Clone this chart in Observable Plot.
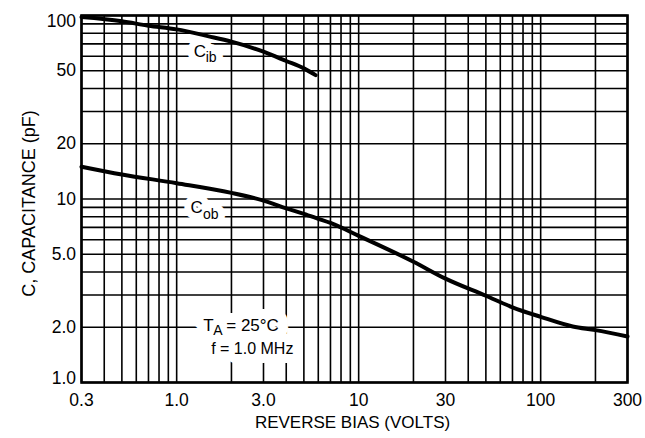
<!DOCTYPE html>
<html><head><meta charset="utf-8">
<script src="https://cdn.jsdelivr.net/npm/d3@7"></script>
<script src="https://cdn.jsdelivr.net/npm/@observablehq/plot@0.6"></script>
<style>body{margin:0;background:#fff}</style>
</head><body><div id="chart"></div>
<script>
// grid and tick values
const xGrid = [0.3,0.4,0.5,0.6,0.7,0.8,0.9,1,2,3,4,5,6,7,8,9,10,20,30,40,50,60,70,80,90,100,200,300];
const yGrid = [1,2,3,4,5,6,7,8,9,10,20,30,40,50,60,70,80,90,100];
const xTicks = [0.3,0.5,1,3,10,30,100,300];
const xTickLabels = ["0.3","0.5","1.0","3.0","10","30","100","300"];
const yTicks = [1,2,5,10,20,50,100];
const yTickLabels = ["1.0","2.0","5.0","10","20","50","100"];

// series: Cob
const cobBias = [0.3,0.5,1.0,2.0,3.0,4.0,5.0,6.0,7.0,10,20,30,50,70,100,150,200,300];
const cobCap  = [15.0,13.6,12.2,10.8,9.8,8.9,8.3,7.8,7.4,6.3,4.55,3.68,2.97,2.57,2.28,2.02,1.93,1.78];
// series: Cib
const cibBias = [0.3,0.5,0.7,1.0,1.5,2.0,3.0,4.0,5.0,5.8];
const cibCap  = [98,93,88,84,77,72,63.5,56.5,51.5,47.3];

// annotation anchors (data coordinates)
const cibLabel = [{x:1.24, y:63.7}];
const cobLabel = [{x:1.19, y:8.93}];
const condLabel = [{x:1.40, y:2.045}];

const font = "'Liberation Sans', Arial, Helvetica, sans-serif";
const cob = cobBias.map((x,i)=>({x, y:cobCap[i]}));
const cib = cibBias.map((x,i)=>({x, y:cibCap[i]}));

const halos = [], texts = [];
function lab(data, str, opts, halo) {
  const base = {x:"x", y:"y", text:()=>str, textAnchor:"start", lineAnchor:"middle", fontFamily:font, ...opts};
  halos.push(Plot.text(data, {...base, fill:"white", stroke:"white", strokeWidth:halo, strokeLinejoin:"round"}));
  texts.push(Plot.text(data, {...base, fill:"black"}));
}
lab(cibLabel, "C", {fontSize:17}, 14);
lab(cibLabel, "ib", {fontSize:14, dx:12, dy:6}, 14);
lab(cobLabel, "C", {fontSize:17}, 14);
lab(cobLabel, "ob", {fontSize:14, dx:12.5, dy:6}, 14);
lab(condLabel, "T", {fontSize:17}, 20);
lab(condLabel, "A", {fontSize:14, dx:10, dy:5}, 20);
lab(condLabel, "= 25°C", {fontSize:17, dx:23}, 20);
lab(condLabel, "f = 1.0 MHz", {fontSize:16, dx:49, dy:23.5, textAnchor:"middle"}, 18);

const xfmt = d => xTickLabels[xTicks.indexOf(d)];
const yfmt = d => yTickLabels[yTicks.indexOf(d)];

const chart = Plot.plot({
  width:645, height:438,
  marginLeft:81, marginRight:18, marginTop:15, marginBottom:56,
  style:{fontFamily:font, background:"white", color:"black"},
  x:{type:"log", domain:[0.3,300]},
  y:{type:"log", domain:[1,100]},
  marks:[
    Plot.ruleX(xGrid, {x:d=>d, stroke:"black", strokeWidth:1.6}),
    Plot.ruleY(yGrid, {y:d=>d, stroke:"black", strokeWidth:1.6}),
    ...halos,
    Plot.frame({stroke:"black", strokeWidth:2.6}),
    Plot.line(cib, {x:"x", y:"y", stroke:"black", strokeWidth:4, curve:"monotone-x"}),
    Plot.line(cob, {x:"x", y:"y", stroke:"black", strokeWidth:4, curve:"monotone-x"}),
    ...texts,
    Plot.axisX({ticks:xTicks, tickFormat:xfmt, tickSize:0, tickPadding:11, fontSize:17.5, label:null}),
    Plot.axisY({ticks:yTicks.slice(1,-1), tickFormat:yfmt, tickSize:0, tickPadding:5.5, fontSize:17.5, label:null}),
    Plot.axisY({ticks:[100], tickFormat:yfmt, tickSize:0, tickPadding:5.5, fontSize:17.5, dy:6, label:null}),
    Plot.axisY({ticks:[1], tickFormat:yfmt, tickSize:0, tickPadding:5.5, fontSize:17.5, dy:-4.5, label:null}),
    Plot.text(["REVERSE BIAS (VOLTS)"], {text:d=>d, frameAnchor:"bottom", textAnchor:"middle", lineAnchor:"middle", dy:40, dx:-2, fontSize:17, fontFamily:font}),
    Plot.text(["C, CAPACITANCE (pF)"], {text:d=>d, frameAnchor:"left", textAnchor:"middle", lineAnchor:"middle", rotate:-90, dx:-52, dy:4.5, fontSize:18, fontFamily:font})
  ]
});
document.getElementById("chart").appendChild(chart);
</script>
</body></html>
